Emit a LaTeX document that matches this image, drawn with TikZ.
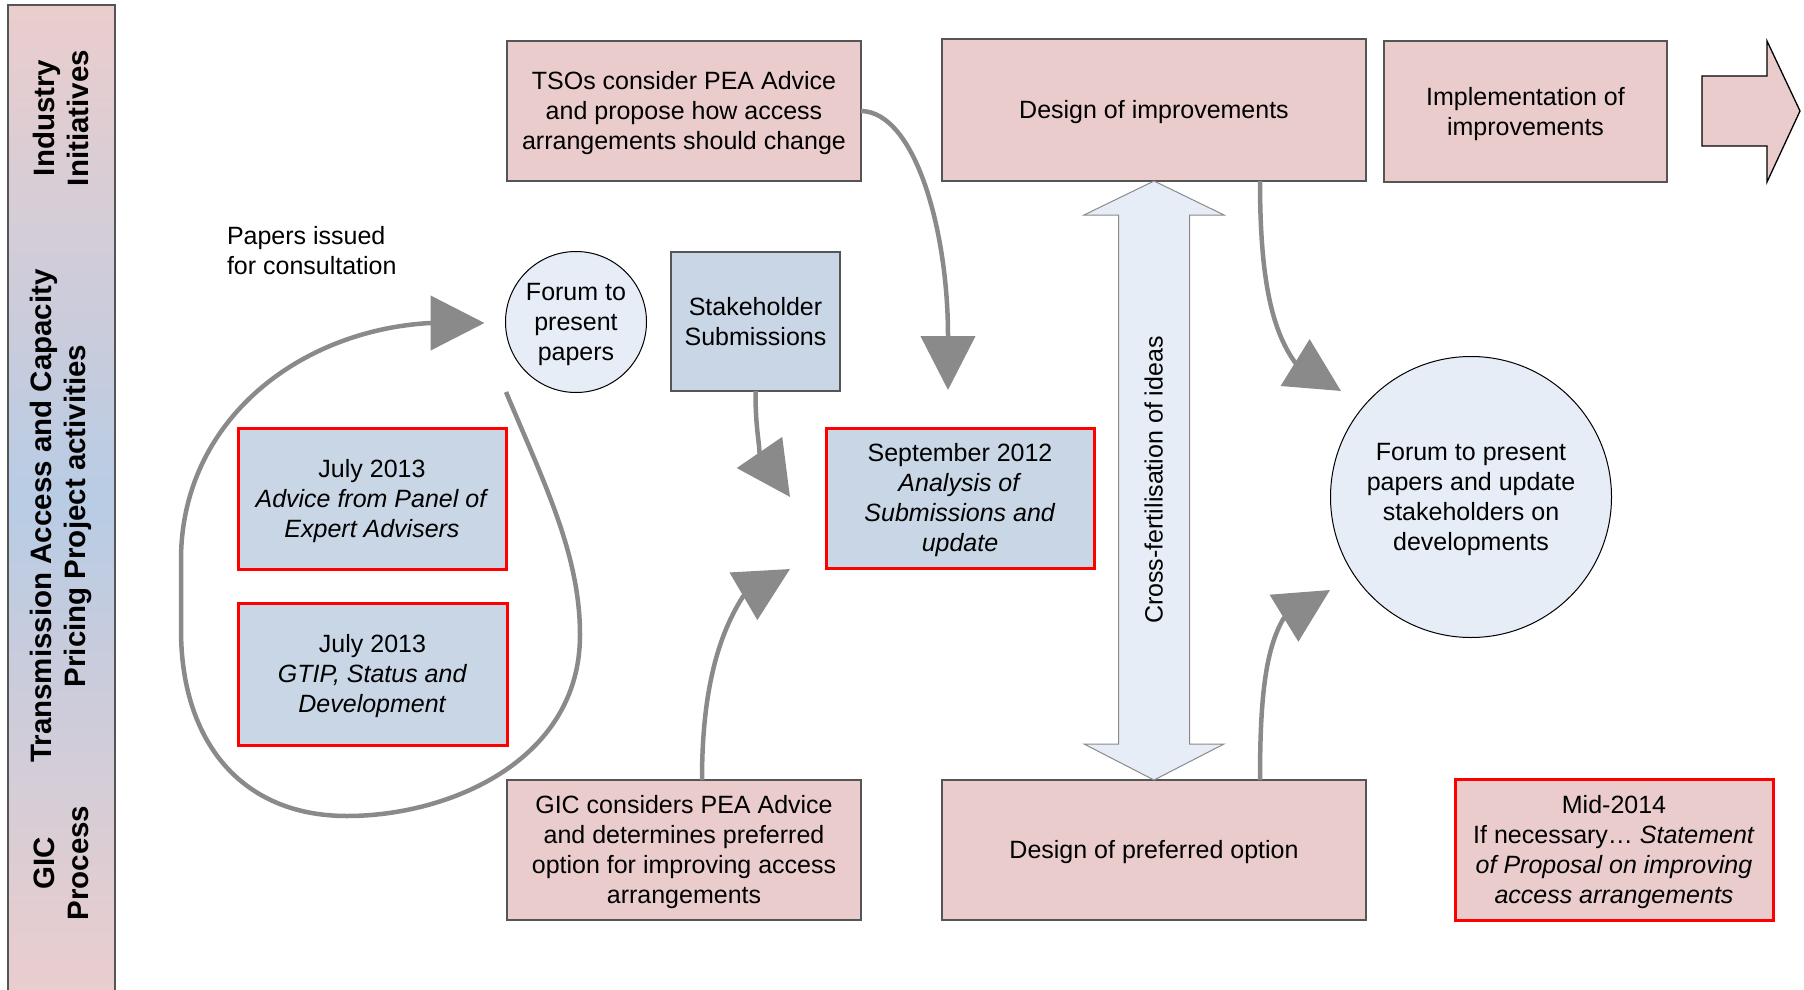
\documentclass[tikz,border=0pt]{standalone}
\usepackage{fontspec}
\setmainfont{Liberation Sans}
\usetikzlibrary{arrows.meta,calc}
\definecolor{pinkf}{HTML}{EACCCC}
\definecolor{bluef}{HTML}{C8D6E5}
\definecolor{lightf}{HTML}{E6EDF7}
\definecolor{arrowg}{HTML}{8A8A8A}
\definecolor{bordg}{HTML}{555555}
\definecolor{bandpink}{HTML}{EBCDCD}
\definecolor{bandblue}{HTML}{B8CCE4}
\definecolor{redb}{HTML}{FF0000}
\newcommand{\fl}{\rule{0pt}{22.6pt}}
\tikzset{
  txt/.style={font=\fontsize{25}{30}\selectfont, align=center, inner sep=0pt, outer sep=0pt,
    execute at end node={\rule[-5.3pt]{0pt}{5.3pt}}},
  pinkbox/.style={txt, rectangle, draw=bordg, line width=1.3pt, fill=pinkf},
  bluebox/.style={txt, rectangle, draw=bordg, line width=1.3pt, fill=bluef},
  redblue/.style={txt, rectangle, draw=redb, line width=3pt, fill=bluef},
  redpink/.style={txt, rectangle, draw=redb, line width=3pt, fill=pinkf},
  roundnode/.style={txt, circle, draw=black, line width=1pt, fill=lightf},
  bandtxt/.style={rotate=90, align=center, inner sep=0pt, font=\bfseries\fontsize{29.5}{34}\selectfont},
  conn/.style={draw=arrowg, line width=4.5pt, -{Triangle[length=54pt,width=54pt]}},
}
\begin{document}
\begin{tikzpicture}[x=1pt,y=-1pt]
\useasboundingbox (0,0) rectangle (1804,990);

% left band
\path[draw=bordg, line width=1.3pt, top color=bandpink, bottom color=bandpink, middle color=bandblue]
  (8,5) rectangle (115,996);
\node[bandtxt] (bandA) at (61,118) {Industry\\Initiatives};
\node[bandtxt] (bandB) at (61,516) {Transmission Access and Capacity\\Pricing Project activities};
\node[bandtxt] (bandC) at (61,863) {GIC\\Process};

% top row
\node[pinkbox, minimum width=354pt, minimum height=140pt] (tsos) at (684,111)
  {\fl TSOs consider PEA Advice\\and propose how access\\arrangements should change};
\node[pinkbox, minimum width=424pt, minimum height=142pt] (design) at (1154,110)
  {\fl Design of improvements};
\node[pinkbox, minimum width=283pt, minimum height=141pt] (impl) at (1525.5,111.5)
  {\fl Implementation of\\improvements};
\draw[fill=pinkf, draw=black, line width=1.3pt]
  (1702,76) -- (1767,76) -- (1767,41) -- (1800,111) -- (1767,182) -- (1767,146) -- (1702,146) -- cycle;

% middle
\node[txt, anchor=west, align=left] (papers) at (227,251) {\fl Papers issued\\for consultation};
\node[roundnode, minimum size=141pt] (forum) at (576,322) {\fl Forum to\\present\\papers};
\node[bluebox, minimum width=169pt, minimum height=139pt] (stake) at (755.5,321.5)
  {\fl Stakeholder\\Submissions};
\node[redblue, minimum width=268pt, minimum height=141pt] (advice) at (372,498.5)
  {\fl July 2013\\\textit{Advice from Panel of}\\\textit{Expert Advisers}};
\node[redblue, minimum width=269pt, minimum height=142pt] (gtip) at (372.5,674)
  {\fl July 2013\\\textit{GTIP, Status and}\\\textit{Development}};
\node[redblue, minimum width=268pt, minimum height=140pt] (sept) at (960,498)
  {\fl September 2012\\\textit{Analysis of}\\\textit{Submissions and}\\\textit{update}};
\node[roundnode, minimum size=281pt] (bigc) at (1471,497)
  {\fl Forum to present\\papers and update\\stakeholders on\\developments};

% bottom row
\node[pinkbox, minimum width=354pt, minimum height=140pt] (gic) at (684,850)
  {\fl GIC considers PEA Advice\\and determines preferred\\option for improving access\\arrangements};
\node[pinkbox, minimum width=424pt, minimum height=140pt] (pref) at (1154,850)
  {\fl Design of preferred option};
\node[redpink, minimum width=318pt, minimum height=141pt] (mid) at (1614,849.5)
  {\fl Mid-2014\\If necessary\dots{} \textit{Statement}\\\textit{of Proposal on improving}\\\textit{access arrangements}};

% cross-fertilisation double arrow
\draw[fill=lightf, draw=arrowg, line width=1pt]
  (design.south) -- ($(design.south)+(70,34)$) -- ($(design.south)+(35.5,34)$)
  -- ($(pref.north)+(35.5,-36)$) -- ($(pref.north)+(70,-36)$) -- (pref.north)
  -- ($(pref.north)+(-70,-36)$) -- ($(pref.north)+(-35.5,-36)$)
  -- ($(design.south)+(-35.5,34)$) -- ($(design.south)+(-70,34)$) -- cycle;
\node[txt, rotate=90] (cross) at (1154,480) {\fl Cross-fertilisation of ideas};

% connector end points
\coordinate (loopS) at ($(forum.center)+(-70,70)$);
\coordinate (loopT) at ($(forum.west)+(-21,1)$);
\coordinate (tipB) at ($(sept.north)+(-12,-38)$);
\coordinate (tipC) at ($(sept.north west)+(-36,69)$);
\coordinate (tipD) at ($(sept.south west)+(-36,1)$);
\coordinate (tipE) at ($(bigc.center)+(-130,-106)$);
\coordinate (tipF) at ($(bigc.center)+(-141,93)$);

% connectors
\draw[conn] (loopS) .. controls (545,485) and (580,555) .. (580,635)
  .. controls (580,760) and (450,816) .. (347,816)
  .. controls (240,816) and (181,740) .. (181,630)
  -- (181,560) .. controls (181,420) and (300,330) .. ($(loopT)+(-54,0)$) -- (loopT);
\draw[conn] (tsos.east) .. controls (915,112) and (948,230) .. ($(tipB)+(0,-54)$) -- (tipB);
\draw[conn] (stake.south) .. controls (755.5,426) and (758.5,436) .. ($(tipC)+(-30.5,-44.5)$) -- (tipC);
\draw[conn] ($(gic.north)+(18,0)$) .. controls (702,700) and (715,640) .. ($(tipD)+(-47,27.5)$) -- (tipD);
\draw[conn] ($(design.south)+(106,0)$) .. controls (1260,280) and (1272,330) .. ($(tipE)+(-46,-28.5)$) -- (tipE);
\draw[conn] ($(pref.north)+(106,0)$) .. controls (1260,700) and (1265,650) .. ($(tipF)+(-46.5,28.5)$) -- (tipF);
\end{tikzpicture}
\end{document}
